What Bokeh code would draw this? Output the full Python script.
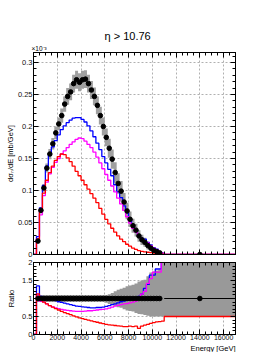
import numpy as np
from bokeh.plotting import figure
from bokeh.layouts import column
from bokeh.models import Range1d, LinearAxis, FixedTicker, CustomJSTickFormatter, Title
from bokeh.embed import file_html
from bokeh.resources import INLINE

# ---------------- data ----------------
bin_edges = [0, 250, 500, 750, 1000, 1250, 1500, 1750, 2000, 2250, 2500, 2750, 3000,
             3250, 3500, 3750, 4000, 4250, 4500, 4750, 5000, 5250, 5500, 5750, 6000,
             6250, 6500, 6750, 7000, 7250, 7500, 7750, 8000, 8250, 8500, 8750, 9000,
             9250, 9500, 9750, 10000, 10250, 10500, 10750, 11000, 17000]

data_val = [None, 0.021, 0.069, 0.104, 0.135, 0.157, 0.173, 0.190, 0.204, 0.217, 0.235,
            0.247, 0.254, 0.267, 0.273, 0.269, 0.273, 0.274, 0.267, 0.257, 0.247,
            0.233, 0.217, 0.200, 0.183, 0.166, 0.149, 0.128, 0.111, 0.099, 0.082,
            0.068, 0.055, 0.045, 0.038, 0.029, 0.023, 0.019, 0.014, 0.010, 0.0065,
            0.0045, 0.0025, None, 0.0]

data_err = [None, 0.004, 0.005, 0.006, 0.007, 0.008, 0.009, 0.010, 0.010, 0.011, 0.012,
            0.013, 0.013, 0.014, 0.014, 0.014, 0.014, 0.014, 0.014, 0.014, 0.014,
            0.014, 0.014, 0.014, 0.014, 0.015, 0.015, 0.016, 0.016, 0.016, 0.014,
            0.013, 0.012, 0.011, 0.010, 0.009, 0.008, 0.007, 0.006, 0.005, 0.005,
            0.004, 0.003, None, 0.0]

blue_val = [0, 0.028, 0.073, 0.108, 0.138, 0.155, 0.168, 0.178, 0.187, 0.195, 0.201,
            0.206, 0.210, 0.213, 0.214, 0.214, 0.211, 0.207, 0.201, 0.193, 0.184,
            0.174, 0.164, 0.153, 0.143, 0.133, 0.123, 0.109, 0.098, 0.089, 0.076,
            0.065, 0.054, 0.045, 0.039, 0.030, 0.025, 0.024, 0.019, 0.015, 0.0107,
            0.0082, 0.0046, 0.002, 0]

magenta_val = [0, 0.0235, 0.062, 0.092, 0.113, 0.126, 0.136, 0.144, 0.150, 0.157, 0.162,
               0.167, 0.172, 0.176, 0.180, 0.182, 0.181, 0.177, 0.172, 0.167, 0.160,
               0.152, 0.143, 0.134, 0.125, 0.116, 0.107, 0.098, 0.088, 0.079, 0.069,
               0.059, 0.049, 0.041, 0.035, 0.029, 0.024, 0.021, 0.018, 0.014, 0.010,
               0.007, 0.004, 0.002, 0]

red_val = [0, 0.024, 0.068, 0.096, 0.116, 0.128, 0.138, 0.147, 0.153, 0.157, 0.156,
           0.151, 0.145, 0.138, 0.130, 0.123, 0.116, 0.109, 0.102, 0.095, 0.088,
           0.081, 0.072, 0.063, 0.055, 0.048, 0.041, 0.035, 0.029, 0.024, 0.020,
           0.016, 0.013, 0.010, 0.008, 0.006, 0.005, 0.004, 0.0035, 0.003, 0.002,
           0.0015, 0.001, 0.0005, 0]

blue_ratio = [0, 1.35, 1.06, 1.04, 1.02, 0.99, 0.96, 0.94, 0.91, 0.89, 0.87,
              0.85, 0.83, 0.81, 0.79, 0.78, 0.77, 0.76, 0.75, 0.74, 0.74,
              0.75, 0.75, 0.76, 0.78, 0.80, 0.83, 0.85, 0.88, 0.91, 0.93,
              0.95, 0.97, 1.00, 1.02, 1.06, 1.12, 1.28, 1.39, 1.65, 1.65,
              1.82, 1.82, 3.0, 3.0]

magenta_ratio = [0, 1.11, 0.92, 0.90, 0.85, 0.80, 0.77, 0.74, 0.72, 0.70, 0.68,
                 0.67, 0.66, 0.65, 0.64, 0.64, 0.64, 0.65, 0.66, 0.66, 0.67,
                 0.68, 0.69, 0.70, 0.71, 0.73, 0.76, 0.79, 0.81, 0.83, 0.85,
                 0.86, 0.88, 0.90, 0.93, 1.00, 1.12, 1.20, 1.42, 1.55, 1.73,
                 1.73, 1.73, 3.0, 3.0]

red_ratio = [0, 1.13, 0.99, 0.90, 0.85, 0.80, 0.76, 0.72, 0.68, 0.64, 0.61,
             0.58, 0.55, 0.52, 0.49, 0.46, 0.44, 0.42, 0.40, 0.38, 0.36,
             0.34, 0.32, 0.30, 0.28, 0.27, 0.26, 0.25, 0.24, 0.23, 0.22,
             0.22, 0.23, 0.22, 0.23, 0.17, 0.23, 0.26, 0.28, 0.31, 0.33,
             0.35, 0.36, 0.37, 0.50]

band_lo = [None, 0.90, 0.90, 0.90, 0.90, 0.90, 0.90, 0.90, 0.90, 0.90, 0.90,
           0.90, 0.90, 0.90, 0.90, 0.90, 0.90, 0.90, 0.90, 0.90, 0.90,
           0.90, 0.90, 0.90, 0.88, 0.85, 0.82, 0.79, 0.76, 0.74, 0.70,
           0.67, 0.65, 0.64, 0.60, 0.57, 0.56, 0.54, 0.52, 0.50, 0.50,
           0.50, 0.50, 0.50, 0.50]

band_hi = [None, 1.10, 1.10, 1.10, 1.10, 1.10, 1.10, 1.10, 1.10, 1.10, 1.10,
           1.10, 1.10, 1.10, 1.10, 1.10, 1.10, 1.10, 1.10, 1.10, 1.10,
           1.10, 1.10, 1.10, 1.10, 1.12, 1.15, 1.20, 1.24, 1.27, 1.30,
           1.34, 1.36, 1.38, 1.42, 1.47, 1.50, 1.52, 1.62, 1.72, 1.75,
           1.78, 1.80, 2.50, 2.50]

x_ticks = [0, 2000, 4000, 6000, 8000, 10000, 12000, 14000, 16000]
y_ticks = [0, 0.05, 0.1, 0.15, 0.2, 0.25, 0.3]
r_ticks = [0, 0.5, 1, 1.5, 2]

title_text = "\u03b7 > 10.76"
y_title = "d\u03c3\u2099/dE [mb/GeV]"
r_title = "Ratio"
x_title = "Energy [GeV]"
exp_text = "\u00d710\u207b\u00b3"

# ---------------- derived arrays ----------------
def arr(v):
    return np.array([np.nan if a is None else a for a in v], dtype=float)

edges = np.array(bin_edges, dtype=float)
left = edges[:-1]
right = edges[1:]
centers = 0.5 * (left + right)
d = arr(data_val)
de = arr(data_err)
blo = arr(band_lo)
bhi = arr(band_hi)
rpts = np.where(np.isnan(d), np.nan, 1.0)

FONT = "Liberation Sans"
XMAX = 17000
YMAX = 0.3156
BAND = "#a0a0a0"
COLORS = ("#0000ff", "#ff00ff", "#ff0000")

fmt = CustomJSTickFormatter(code="return parseFloat(tick.toFixed(4)).toString();")
blank = CustomJSTickFormatter(code="return '';")

def style_axis(ax, labels=True, size="7.5px"):
    ax.axis_line_color = "black"
    ax.axis_line_width = 1
    ax.major_tick_in = 5
    ax.major_tick_out = 0
    ax.minor_tick_in = 3
    ax.minor_tick_out = 0
    ax.major_tick_line_color = "black"
    ax.minor_tick_line_color = "black"
    ax.major_label_text_font = FONT
    ax.major_label_text_color = "#111111"
    if labels:
        ax.formatter = fmt
        ax.major_label_standoff = 1
        ax.major_label_text_font_size = size
    else:
        ax.formatter = blank
        ax.major_label_standoff = 0
        ax.major_label_text_font_size = "1px"

def xticker():
    return FixedTicker(ticks=x_ticks, minor_ticks=list(np.arange(0, XMAX + 1, 500)))

def style_grid(p, yt):
    for g in (p.xgrid, p.ygrid):
        g.grid_line_color = "#b0b0b0"
        g.grid_line_dash = "2 2"
        g.grid_line_width = 1
    p.xgrid.ticker = xticker()
    p.ygrid.ticker = FixedTicker(ticks=yt)

def new_fig(h, xr, yr, top, bottom):
    p = figure(width=248, height=h, x_range=xr, y_range=yr,
               output_backend="svg", toolbar_location=None,
               min_border_left=29, min_border_right=13,
               min_border_top=top, min_border_bottom=bottom)
    p.background_fill_color = "white"
    p.border_fill_color = "white"
    p.outline_line_color = "black"
    return p

def mk_title(text, size, align="center", offset=0, standoff=0):
    return Title(text=text, align=align, offset=offset, standoff=standoff,
                 text_font=FONT, text_font_size=size, text_font_style="normal",
                 text_color="black")

xr = Range1d(0, XMAX)

# ---------------- top panel ----------------
p1 = new_fig(258, xr, Range1d(0, YMAX), 52, 4)
p1.xaxis.ticker = xticker()
p1.yaxis.ticker = FixedTicker(ticks=y_ticks, minor_ticks=list(np.arange(0, YMAX, 0.01)))
style_axis(p1.xaxis[0], labels=False)
style_axis(p1.yaxis[0], labels=True)
ax = LinearAxis(ticker=FixedTicker(ticks=y_ticks, minor_ticks=list(np.arange(0, YMAX, 0.01))))
style_axis(ax, labels=False)
p1.add_layout(ax, "right")
ax = LinearAxis(ticker=xticker())
style_axis(ax, labels=False)
p1.add_layout(ax, "above")
style_grid(p1, y_ticks)

p1.add_layout(mk_title(exp_text, "6.5px", align="left", offset=-2, standoff=1), "above")
p1.add_layout(mk_title(title_text, "11px", align="left", offset=71, standoff=2), "above")
p1.add_layout(mk_title(y_title, "7.5px", standoff=0), "left")

ok = ~np.isnan(d[:-1])
idx = np.where(ok)[0]
i0, i1 = idx[0], idx[-1]
xs = edges[i0:i1 + 2]
p1.varea_step(x=xs, y1=list((d - de)[i0:i1 + 1]) + [(d - de)[i1]],
              y2=list((d + de)[i0:i1 + 1]) + [(d + de)[i1]],
              step_mode="after", fill_color=BAND)
for vals, col in zip((blue_val, magenta_val, red_val), COLORS):
    p1.step(x=edges, y=list(vals) + [vals[-1]], mode="after", line_color=col, line_width=1.3)
p1.segment(x0=left, x1=right, y0=d, y1=d, line_color="black", line_width=1)
p1.scatter(x=centers, y=d, size=4.6, fill_color="black", line_color="black")

# ---------------- ratio panel ----------------
p2 = new_fig(94, xr, Range1d(0, 2), 4, 16)
p2.xaxis.ticker = xticker()
p2.yaxis.ticker = FixedTicker(ticks=r_ticks, minor_ticks=list(np.arange(0, 2.01, 0.1)))
style_axis(p2.xaxis[0], labels=True, size="7px")
p2.xaxis[0].major_label_standoff = 0
style_axis(p2.yaxis[0], labels=True)
ax = LinearAxis(ticker=FixedTicker(ticks=r_ticks, minor_ticks=list(np.arange(0, 2.01, 0.1))))
style_axis(ax, labels=False)
p2.add_layout(ax, "right")
ax = LinearAxis(ticker=xticker())
style_axis(ax, labels=False)
p2.add_layout(ax, "above")
style_grid(p2, r_ticks)
p2.add_layout(mk_title(r_title, "7.5px", standoff=8), "left")
p2.add_layout(mk_title(x_title, "7.5px", align="right", standoff=-1), "below")

xs2 = edges[1:]
p2.varea_step(x=xs2, y1=list(blo[1:]) + [blo[-1]], y2=list(bhi[1:]) + [bhi[-1]],
              step_mode="after", fill_color="#999999")
for vals, col in zip((blue_ratio, magenta_ratio, red_ratio), COLORS):
    p2.step(x=edges, y=list(vals) + [vals[-1]], mode="after", line_color=col, line_width=1.3)
p2.segment(x0=left, x1=right, y0=rpts, y1=rpts, line_color="black", line_width=1)
p2.scatter(x=centers, y=rpts, size=4.6, fill_color="black", line_color="black")

layout = column(p1, p2)
open("out.html", "w").write(file_html(layout, INLINE))
